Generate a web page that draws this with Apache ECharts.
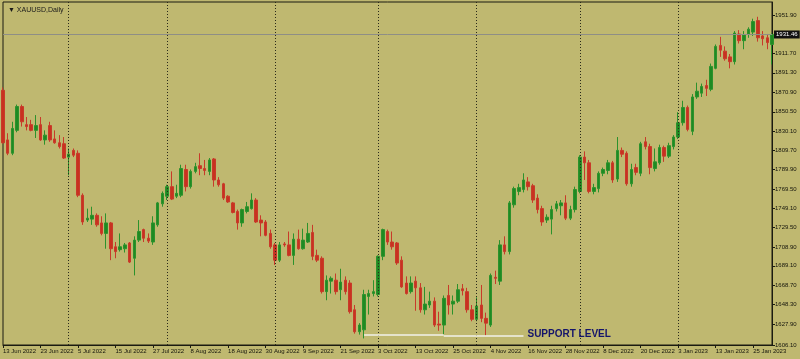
<!DOCTYPE html>
<html>
<head>
<meta charset="utf-8">
<script src="https://cdn.jsdelivr.net/npm/echarts@6/dist/echarts.min.js"></script>
<style>
html,body{margin:0;padding:0;background:#BFB870;}
#chart{width:800px;height:359px;}
</style>
</head>
<body>
<div id="chart"></div>
<script>
// ---------- DATA ----------
const dates = [
'13 Jun 2022','14 Jun 2022','15 Jun 2022','16 Jun 2022','17 Jun 2022','20 Jun 2022','21 Jun 2022','22 Jun 2022','23 Jun 2022','24 Jun 2022','27 Jun 2022','28 Jun 2022','29 Jun 2022','30 Jun 2022',
'1 Jul 2022','4 Jul 2022','5 Jul 2022','6 Jul 2022','7 Jul 2022','8 Jul 2022','11 Jul 2022','12 Jul 2022','13 Jul 2022','14 Jul 2022','15 Jul 2022','18 Jul 2022','19 Jul 2022','20 Jul 2022','21 Jul 2022','22 Jul 2022','25 Jul 2022','26 Jul 2022','27 Jul 2022','28 Jul 2022','29 Jul 2022',
'1 Aug 2022','2 Aug 2022','3 Aug 2022','4 Aug 2022','5 Aug 2022','8 Aug 2022','9 Aug 2022','10 Aug 2022','11 Aug 2022','12 Aug 2022','15 Aug 2022','16 Aug 2022','17 Aug 2022','18 Aug 2022','19 Aug 2022','22 Aug 2022','23 Aug 2022','24 Aug 2022','25 Aug 2022','26 Aug 2022','29 Aug 2022','30 Aug 2022','31 Aug 2022',
'1 Sep 2022','2 Sep 2022','5 Sep 2022','6 Sep 2022','7 Sep 2022','8 Sep 2022','9 Sep 2022','12 Sep 2022','13 Sep 2022','14 Sep 2022','15 Sep 2022','16 Sep 2022','19 Sep 2022','20 Sep 2022','21 Sep 2022','22 Sep 2022','23 Sep 2022','26 Sep 2022','27 Sep 2022','28 Sep 2022','29 Sep 2022','30 Sep 2022',
'3 Oct 2022','4 Oct 2022','5 Oct 2022','6 Oct 2022','7 Oct 2022','10 Oct 2022','11 Oct 2022','12 Oct 2022','13 Oct 2022','14 Oct 2022','17 Oct 2022','18 Oct 2022','19 Oct 2022','20 Oct 2022','21 Oct 2022','24 Oct 2022','25 Oct 2022','26 Oct 2022','27 Oct 2022','28 Oct 2022','31 Oct 2022',
'1 Nov 2022','2 Nov 2022','3 Nov 2022','4 Nov 2022','7 Nov 2022','8 Nov 2022','9 Nov 2022','10 Nov 2022','11 Nov 2022','14 Nov 2022','15 Nov 2022','16 Nov 2022','17 Nov 2022','18 Nov 2022','21 Nov 2022','22 Nov 2022','23 Nov 2022','24 Nov 2022','25 Nov 2022','28 Nov 2022','29 Nov 2022','30 Nov 2022',
'1 Dec 2022','2 Dec 2022','5 Dec 2022','6 Dec 2022','7 Dec 2022','8 Dec 2022','9 Dec 2022','12 Dec 2022','13 Dec 2022','14 Dec 2022','15 Dec 2022','16 Dec 2022','19 Dec 2022','20 Dec 2022','21 Dec 2022','22 Dec 2022','23 Dec 2022','27 Dec 2022','28 Dec 2022','29 Dec 2022','30 Dec 2022',
'3 Jan 2023','4 Jan 2023','5 Jan 2023','6 Jan 2023','9 Jan 2023','10 Jan 2023','11 Jan 2023','12 Jan 2023','13 Jan 2023','16 Jan 2023','17 Jan 2023','18 Jan 2023','19 Jan 2023','20 Jan 2023','23 Jan 2023','24 Jan 2023','25 Jan 2023','26 Jan 2023','27 Jan 2023','30 Jan 2023','31 Jan 2023'
];
const openP = [
1873,1821,1807,1831,1856,1837,1837,1831,1837,1821,1836,1822,1818,1817,
1803,1810,1807,1763,1737,1738,1742,1734,1723,1734,1709,1706,1707,1713,1697,1716,1727,1718,1714,1732,1754,
1762,1772,1762,1763,1790,1772,1788,1794,1791,1788,1801,1779,1775,1762,1755,1746,1734,1746,1749,1758,1737,1735,1723,
1711,1695,1712,1711,1700,1717,1707,1714,1724,1700,1697,1662,1673,1674,1664,1674,1671,1643,1620,1622,1657,1660,
1659,1699,1725,1714,1713,1695,1671,1662,1673,1666,1643,1648,1652,1628,1627,1658,1649,1652,1665,1662,1643,
1633,1648,1634,1627,1677,1673,1711,1704,1753,1767,1769,1777,1773,1760,1749,1737,1738,1749,1752,1755,1739,1748,
1767,1803,1797,1767,1770,1786,1789,1797,1780,1810,1807,1775,1792,1786,1819,1814,1791,1797,1813,1804,1814,
1824,1839,1855,1830,1866,1870,1878,1874,1896,1920,1914,1908,1903,1932,1925,1932,1934,1946,1930,1928,1921
];
const closeP = [
1818,1807,1833,1856,1840,1835,1831,1836,1821,1826,1821,1818,1814,1802,
1806,1805,1763,1735,1739,1742,1732,1723,1734,1707,1704,1709,1711,1693,1716,1725,1718,1715,1734,1755,1765,
1772,1759,1765,1791,1772,1788,1793,1791,1789,1800,1779,1774,1760,1756,1745,1734,1748,1751,1758,1735,1734,1721,1709,
1695,1711,1711,1700,1717,1707,1716,1723,1699,1695,1662,1674,1676,1662,1672,1662,1641,1620,1627,1659,1660,1662,
1699,1727,1714,1709,1692,1667,1660,1671,1666,1643,1649,1652,1627,1627,1655,1648,1652,1664,1663,1643,1633,
1647,1634,1629,1679,1676,1711,1704,1755,1770,1771,1779,1772,1758,1748,1735,1740,1748,1754,1755,1739,1748,1769,
1803,1797,1767,1771,1786,1790,1797,1779,1810,1806,1775,1790,1787,1817,1814,1792,1798,1813,1804,1815,1824,
1839,1855,1832,1866,1872,1877,1875,1898,1919,1915,1906,1903,1933,1925,1931,1937,1945,1928,1927,1923,1931.46
];
const lowP = [
1817,1805,1805,1829,1835,1831,1830,1823,1820,1816,1819,1817,1812,1801,
1784,1803,1761,1732,1735,1732,1730,1721,1707,1695,1697,1704,1703,1692,1679,1714,1714,1713,1711,1730,1751,
1758,1758,1760,1761,1767,1770,1786,1784,1784,1784,1772,1772,1758,1755,1744,1727,1730,1744,1748,1734,1720,1720,1707,
1690,1693,1709,1699,1690,1706,1706,1713,1695,1693,1660,1653,1660,1659,1653,1659,1639,1618,1617,1613,1638,1657,
1657,1695,1711,1706,1690,1666,1659,1660,1642,1640,1638,1645,1625,1621,1617,1638,1638,1650,1658,1640,1631,
1631,1630,1616,1625,1670,1669,1701,1701,1750,1763,1766,1768,1755,1744,1731,1734,1722,1746,1742,1737,1737,1745,
1765,1779,1765,1764,1766,1783,1785,1776,1777,1803,1773,1772,1784,1783,1811,1785,1788,1795,1798,1802,1811,
1822,1836,1830,1826,1864,1866,1867,1872,1895,1908,1904,1896,1900,1922,1916,1928,1930,1924,1920,1916,1900
];
const highP = [
1876,1828,1840,1858,1858,1845,1842,1847,1845,1831,1840,1831,1826,1824,
1812,1812,1810,1765,1749,1751,1744,1741,1744,1735,1714,1723,1713,1714,1720,1737,1728,1723,1741,1756,1767,
1774,1788,1774,1795,1795,1790,1797,1807,1800,1802,1802,1782,1776,1763,1756,1748,1749,1756,1765,1760,1742,1737,1727,
1713,1714,1714,1725,1723,1727,1728,1734,1732,1706,1699,1679,1678,1681,1686,1678,1674,1648,1629,1664,1664,1674,
1700,1728,1727,1725,1714,1699,1678,1678,1678,1671,1667,1662,1656,1641,1658,1669,1658,1670,1670,1666,1648,
1656,1669,1640,1681,1684,1716,1720,1757,1772,1775,1786,1782,1775,1764,1752,1743,1752,1757,1758,1763,1752,1772,
1805,1809,1800,1775,1788,1792,1800,1799,1824,1813,1809,1796,1796,1819,1824,1817,1812,1816,1815,1818,1826,
1850,1862,1857,1869,1881,1880,1884,1901,1921,1929,1919,1911,1935,1936,1935,1939,1948,1950,1935,1932,1933
];
const yTicks = [1951.90,1911.70,1891.30,1870.90,1850.50,1830.10,1809.70,1789.90,1769.50,1749.10,1729.50,1708.90,1689.10,1668.70,1648.30,1627.90,1606.10];
const monthLines = ['1 Jul 2022','1 Aug 2022','1 Sep 2022','3 Oct 2022','1 Nov 2022','1 Dec 2022','3 Jan 2023'];
const supportDates = ['28 Sep 2022','21 Oct 2022','15 Nov 2022'];
const supportValues = [1616.6, 1615.5];
const supportText = 'SUPPORT LEVEL';
const currentPrice = 1931.46;
const chartTitle = '\u25BC XAUUSD,Daily';

// ---------- BUILD ----------
const ohlc = dates.map((d, i) => [openP[i], closeP[i], lowP[i], highP[i]]);
const chart = echarts.init(document.getElementById('chart'), null, {renderer: 'canvas'});
const axisColor = '#1a1a10';
const textColor = '#15150c';
const font = 'Liberation Sans, Arial, sans-serif';
const option = {
  animation: false,
  backgroundColor: '#BFB870',
  title: {
    text: chartTitle, left: 3, top: 2,
    textStyle: {fontSize: 7, fontWeight: 'normal', color: '#1a1a1a', fontFamily: font}
  },
  grid: {left: 3, right: 28, top: 2, bottom: 14, show: true, borderColor: axisColor, borderWidth: 1, backgroundColor: 'transparent'},
  xAxis: {
    type: 'category', data: dates, boundaryGap: false,
    axisLine: {show: true, lineStyle: {color: axisColor, width: 1}},
    axisTick: {show: true, interval: 7, length: 3, lineStyle: {color: axisColor}},
    axisLabel: {interval: 7, align: 'left', fontSize: 6, margin: 3, color: textColor, fontFamily: font},
    splitLine: {show: false}
  },
  yAxis: {
    type: 'value', position: 'right', min: 1606.1, max: 1965.5, scale: true,
    axisLine: {show: true, lineStyle: {color: axisColor, width: 1}},
    axisTick: {show: true, length: 3, customValues: yTicks, lineStyle: {color: axisColor}},
    axisLabel: {customValues: yTicks, fontSize: 6, margin: 3, color: textColor, fontFamily: font,
      formatter: v => v.toFixed(2)},
    splitLine: {show: false}
  },
  series: [{
    type: 'candlestick',
    data: ohlc,
    barWidth: 3,
    itemStyle: {color: '#1f8a22', color0: '#c8321f', borderColor: '#2c922c', borderColor0: '#c83a2a', borderWidth: 1},
    markLine: {
      silent: true, symbol: 'none', animation: false,
      data: [
        ...monthLines.map(d => ({xAxis: d, lineStyle: {type: [1, 2], color: '#2a2a1a', width: 1}, label: {show: false}})),
        {yAxis: currentPrice, lineStyle: {type: 'solid', color: '#8e8e86', width: 1},
          label: {show: true, position: 'end', distance: 2, formatter: currentPrice.toFixed(2), color: '#ffffff',
            backgroundColor: '#111111', padding: [1, 2], fontSize: 6, fontFamily: font}},
        [{coord: [supportDates[0], supportValues[0]]}, {coord: [supportDates[1], supportValues[0]]}],
        [{coord: [supportDates[1], supportValues[1]], lineStyle: {color: '#f2f2ea', width: 1.5, type: 'solid'}},
         {coord: [supportDates[2], supportValues[1]],
          label: {show: true, position: 'end', distance: 4, formatter: supportText, color: '#15156a',
            fontWeight: 'bold', fontSize: 10, fontFamily: font, offset: [0, -2]}}]
      ],
      lineStyle: {color: '#f2f2ea', width: 1.5, type: 'solid'},
      label: {show: false}
    }
  }]
};
chart.setOption(option);
</script>
</body>
</html>
